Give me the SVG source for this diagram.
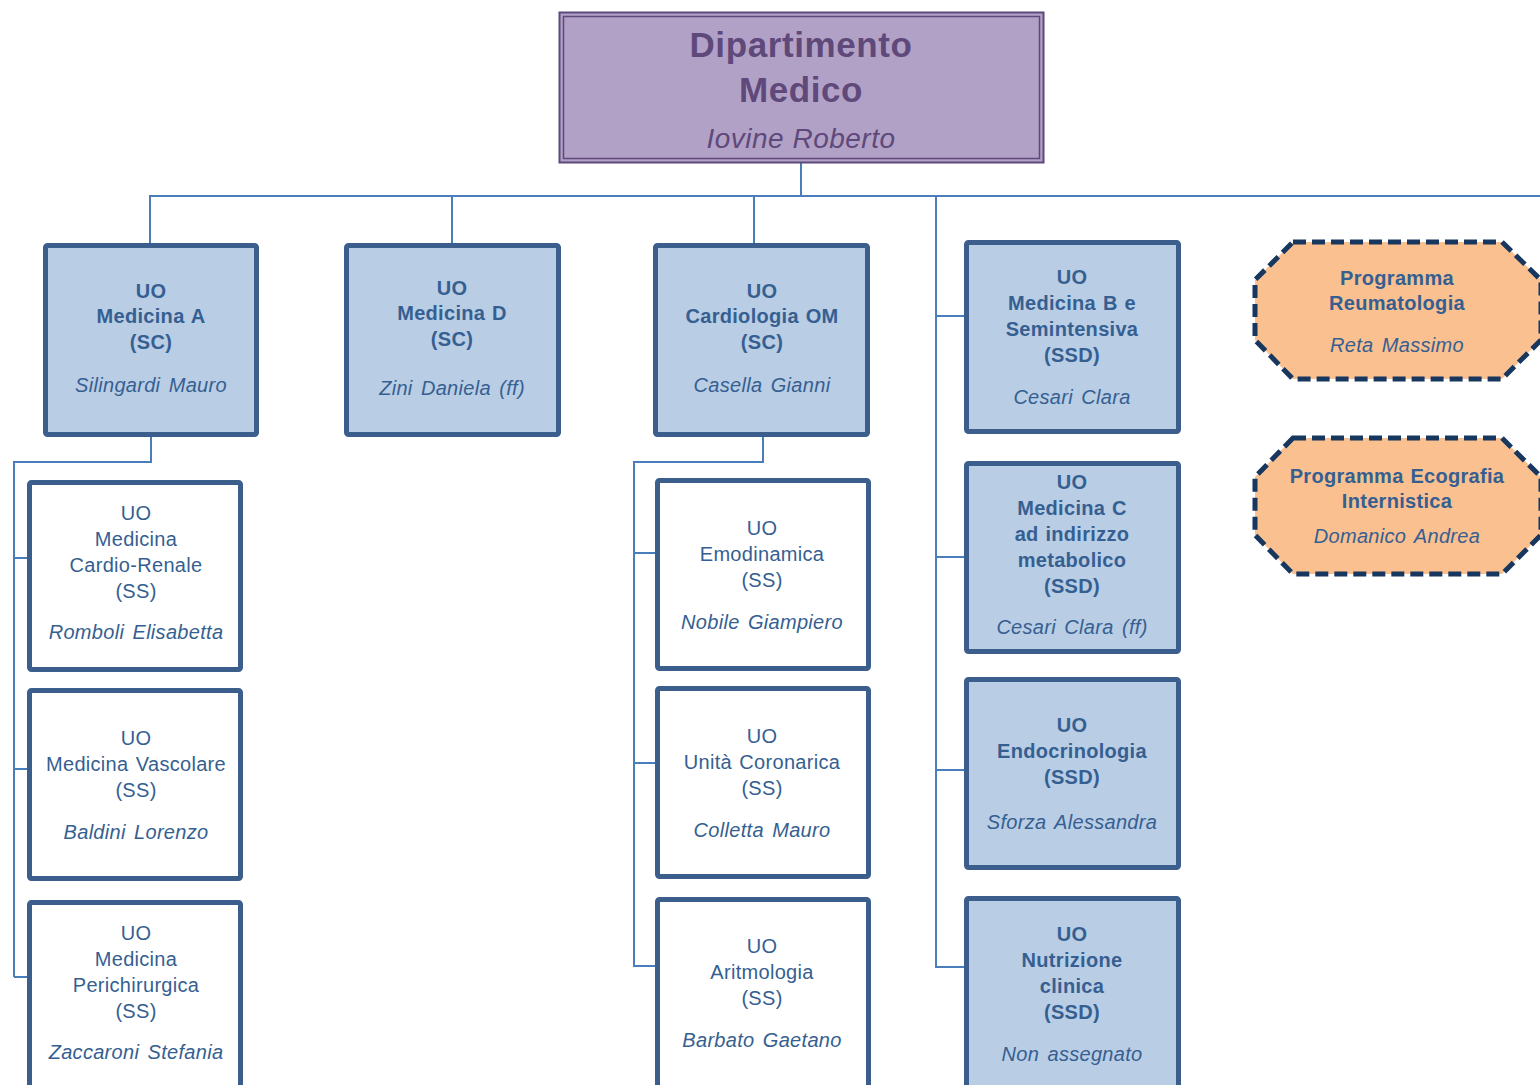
<svg xmlns="http://www.w3.org/2000/svg" width="1540" height="1085" viewBox="0 0 1540 1085">
<style>
text{font-family:"Liberation Sans",Arial,sans-serif;text-anchor:middle;fill:#365f91;letter-spacing:0.3px}
.b{font-weight:bold;font-size:20px;word-spacing:1px}
.r{font-size:20px;word-spacing:1.5px}
.i{font-style:italic;font-size:20px;word-spacing:2.5px}
.title{font-weight:bold;font-size:35px;fill:#5f497a;letter-spacing:0.6px}
.ttl-i{font-style:italic;font-size:28px;fill:#5f497a;letter-spacing:0.5px}
.blue{fill:#b9cde5;stroke:#3b5e8c;stroke-width:5}
.white{fill:#ffffff;stroke:#3b5e8c;stroke-width:5}
.oct{fill:#fac090;stroke:#17375e;stroke-width:5;stroke-dasharray:13 6}
.conn{fill:none;stroke:#4a7ebb;stroke-width:2}
</style>
<g id="connectors">
<path class="conn" d="M801 163V196M149 196H1540M150 196V245M452 196V245M754 196V245M936 196V968"/>
<path class="conn" d="M936 316H966M936 557H966M936 770H966M936 967H966"/>
<path class="conn" d="M151 437V462H14V977M14 558H30M14 769H30M14 977H30"/>
<path class="conn" d="M763 437V462H634V967M634 553H657M634 763H657M634 966H657"/>
</g>
<g id="dipartimento">
<rect x="559.5" y="12.5" width="484" height="150" fill="#b2a1c7" stroke="#5f497a" stroke-width="2"/>
<rect x="563.5" y="16.5" width="476" height="142" fill="none" stroke="#5f497a" stroke-width="1.5"/>
<text class="title" x="801" y="57">Dipartimento</text>
<text class="title" x="801" y="102">Medico</text>
<text class="ttl-i" x="801" y="148">Iovine Roberto</text>
</g>
<g id="medicina-a">
<rect class="blue" x="45.5" y="245.5" width="211" height="189" rx="2"/>
<text class="b" x="151" y="298">UO</text>
<text class="b" x="151" y="323">Medicina A</text>
<text class="b" x="151" y="349">(SC)</text>
<text class="i" x="151" y="392">Silingardi Mauro</text>
</g>
<g id="medicina-d">
<rect class="blue" x="346.5" y="245.5" width="212" height="189" rx="2"/>
<text class="b" x="452" y="295">UO</text>
<text class="b" x="452" y="320">Medicina D</text>
<text class="b" x="452" y="346">(SC)</text>
<text class="i" x="452" y="395">Zini Daniela (ff)</text>
</g>
<g id="cardiologia">
<rect class="blue" x="655.5" y="245.5" width="212" height="189" rx="2"/>
<text class="b" x="762" y="298">UO</text>
<text class="b" x="762" y="323">Cardiologia OM</text>
<text class="b" x="762" y="349">(SC)</text>
<text class="i" x="762" y="392">Casella Gianni</text>
</g>
<g id="medicina-b">
<rect class="blue" x="966.5" y="242.5" width="212" height="189" rx="2"/>
<text class="b" x="1072" y="284">UO</text>
<text class="b" x="1072" y="310">Medicina B e</text>
<text class="b" x="1072" y="336">Semintensiva</text>
<text class="b" x="1072" y="362">(SSD)</text>
<text class="i" x="1072" y="404">Cesari Clara</text>
</g>
<g id="medicina-c">
<rect class="blue" x="966.5" y="463.5" width="212" height="188" rx="2"/>
<text class="b" x="1072" y="489">UO</text>
<text class="b" x="1072" y="515">Medicina C</text>
<text class="b" x="1072" y="541">ad indirizzo</text>
<text class="b" x="1072" y="567">metabolico</text>
<text class="b" x="1072" y="593">(SSD)</text>
<text class="i" x="1072" y="634">Cesari Clara (ff)</text>
</g>
<g id="endocrinologia">
<rect class="blue" x="966.5" y="679.5" width="212" height="188" rx="2"/>
<text class="b" x="1072" y="732">UO</text>
<text class="b" x="1072" y="758">Endocrinologia</text>
<text class="b" x="1072" y="784">(SSD)</text>
<text class="i" x="1072" y="829">Sforza Alessandra</text>
</g>
<g id="nutrizione">
<rect class="blue" x="966.5" y="898.5" width="212" height="195" rx="2"/>
<text class="b" x="1072" y="941">UO</text>
<text class="b" x="1072" y="967">Nutrizione</text>
<text class="b" x="1072" y="993">clinica</text>
<text class="b" x="1072" y="1019">(SSD)</text>
<text class="i" x="1072" y="1061">Non assegnato</text>
</g>
<g id="cardio-renale">
<rect class="white" x="29.5" y="482.5" width="211" height="187" rx="2"/>
<text class="r" x="136" y="520">UO</text>
<text class="r" x="136" y="546">Medicina</text>
<text class="r" x="136" y="572">Cardio-Renale</text>
<text class="r" x="136" y="598">(SS)</text>
<text class="i" x="136" y="639">Romboli Elisabetta</text>
</g>
<g id="vascolare">
<rect class="white" x="29.5" y="690.5" width="211" height="188" rx="2"/>
<text class="r" x="136" y="745">UO</text>
<text class="r" x="136" y="771">Medicina Vascolare</text>
<text class="r" x="136" y="797">(SS)</text>
<text class="i" x="136" y="839">Baldini Lorenzo</text>
</g>
<g id="perichirurgica">
<rect class="white" x="29.5" y="902.5" width="211" height="195" rx="2"/>
<text class="r" x="136" y="940">UO</text>
<text class="r" x="136" y="966">Medicina</text>
<text class="r" x="136" y="992">Perichirurgica</text>
<text class="r" x="136" y="1018">(SS)</text>
<text class="i" x="136" y="1059">Zaccaroni Stefania</text>
</g>
<g id="emodinamica">
<rect class="white" x="657.5" y="480.5" width="211" height="188" rx="2"/>
<text class="r" x="762" y="535">UO</text>
<text class="r" x="762" y="561">Emodinamica</text>
<text class="r" x="762" y="587">(SS)</text>
<text class="i" x="762" y="629">Nobile Giampiero</text>
</g>
<g id="unita-coronarica">
<rect class="white" x="657.5" y="688.5" width="211" height="188" rx="2"/>
<text class="r" x="762" y="743">UO</text>
<text class="r" x="762" y="769">Unità Coronarica</text>
<text class="r" x="762" y="795">(SS)</text>
<text class="i" x="762" y="837">Colletta Mauro</text>
</g>
<g id="aritmologia">
<rect class="white" x="657.5" y="899.5" width="211" height="195" rx="2"/>
<text class="r" x="762" y="953">UO</text>
<text class="r" x="762" y="979">Aritmologia</text>
<text class="r" x="762" y="1005">(SS)</text>
<text class="i" x="762" y="1047">Barbato Gaetano</text>
</g>
<g id="programma-reumatologia">
<polygon class="oct" points="1293,242 1502,242 1541,280 1541,340 1502,379 1293,379 1255,340 1255,280"/>
<text class="b" x="1397" y="285">Programma</text>
<text class="b" x="1397" y="310">Reumatologia</text>
<text class="i" x="1397" y="352">Reta Massimo</text>
</g>
<g id="programma-ecografia">
<polygon class="oct" points="1293,438 1502,438 1541,477 1541,535 1502,574 1293,574 1255,535 1255,477"/>
<text class="b" x="1397" y="483">Programma Ecografia</text>
<text class="b" x="1397" y="508">Internistica</text>
<text class="i" x="1397" y="543">Domanico Andrea</text>
</g>
</svg>
